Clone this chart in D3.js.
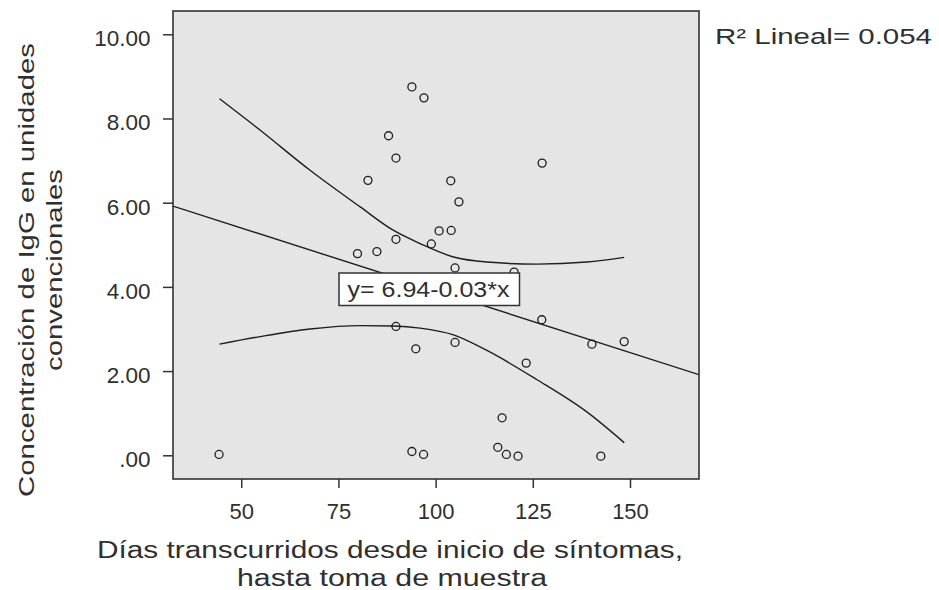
<!DOCTYPE html>
<html>
<head>
<meta charset="utf-8">
<script src="https://cdn.jsdelivr.net/npm/d3@7"></script>
<style>
  body { margin: 0; background: #fff; }
  text { font-family: "Liberation Sans", Arial, sans-serif; fill: #2f2f2f; }
</style>
</head>
<body>
<div id="chart"></div>
<script>
// dias desde inicio de sintomas / concentracion IgG
let dias = [93.9, 97.0, 87.9, 89.8, 82.6, 127.4, 103.9, 106.0, 100.9, 104.0, 89.8,
            98.9, 79.9, 84.9, 105.0, 120.2, 127.3, 140.2, 148.5, 105.0, 123.3, 89.8,
            94.9, 117.1, 116.0, 118.2, 121.2, 142.5, 44.3, 93.9, 96.9];
let igg = [8.75, 8.49, 7.59, 7.06, 6.53, 6.94, 6.52, 6.02, 5.33, 5.34, 5.13,
           5.02, 4.79, 4.84, 4.45, 4.35, 3.22, 2.64, 2.70, 2.68, 2.19, 3.06,
           2.53, 0.89, 0.19, 0.02, -0.02, -0.02, 0.02, 0.09, 0.02];

// linea de ajuste
let fitIntercept = 6.88;
let fitSlope = -0.0296;

// banda de confianza de la media
let bandX = [44.4, 54.9, 67.7, 80.6, 89.2, 96, 104.6, 113.2, 126, 138.9, 148.5];
let bandUpper = [8.47, 7.72, 6.77, 5.90, 5.34, 5.03, 4.71, 4.59, 4.54, 4.59, 4.70];
let bandLower = [2.64, 2.82, 3.00, 3.08, 3.07, 3.02, 2.86, 2.49, 1.80, 1.03, 0.30];

let xTicks = [50, 75, 100, 125, 150];
let yTicks = [0, 2, 4, 6, 8, 10];
let eqText = "y= 6.94-0.03*x";
let r2Text = "R\u00B2 Lineal= 0.054";

let width = 939, height = 590;
let plot = { left: 173, top: 11, right: 699, bottom: 479 }; //px

let svg = d3.select("#chart")
    .append("svg")
    .attr("width", width)
    .attr("height", height);

let x = d3.scaleLinear()
    .domain([32.45, 167.75])
    .range([plot.left, plot.right]);

let y = d3.scaleLinear()
    .domain([-0.563, 10.553])
    .range([plot.bottom, plot.top]);

svg.append("defs").append("clipPath")
    .attr("id", "clip")
    .append("rect")
    .attr("x", plot.left)
    .attr("y", plot.top)
    .attr("width", plot.right - plot.left)
    .attr("height", plot.bottom - plot.top);

svg.append("rect")
    .attr("x", plot.left)
    .attr("y", plot.top)
    .attr("width", plot.right - plot.left)
    .attr("height", plot.bottom - plot.top)
    .attr("fill", "#e4e5e4");

/*---------------
 // axes
 ----------------*/
let xAxis = d3.axisBottom(x)
    .tickValues(xTicks)
    .tickSize(9)
    .tickFormat(d3.format("d"));

let gx = svg.append("g")
    .attr("transform", "translate(0," + plot.bottom + ")")
    .call(xAxis);
gx.select(".domain").remove();
gx.selectAll(".tick line").attr("stroke", "#333").attr("stroke-width", 1.5);
gx.selectAll(".tick text")
    .attr("y", 40)
    .attr("dy", 0)
    .style("font-size", "22px")
    .style("font-family", "'Liberation Sans', Arial, sans-serif")
    .attr("fill", "#2f2f2f");

let yAxis = d3.axisLeft(y)
    .tickValues(yTicks)
    .tickSize(10)
    .tickFormat(d => d === 0 ? ".00" : d3.format(".2f")(d));

let gy = svg.append("g")
    .attr("transform", "translate(" + plot.left + ",0)")
    .call(yAxis);
gy.select(".domain").remove();
gy.selectAll(".tick line").attr("stroke", "#333").attr("stroke-width", 1.5);
gy.selectAll(".tick text")
    .attr("x", -22.5)
    .attr("dy", 11.5)
    .style("font-size", "22.5px")
    .style("font-family", "'Liberation Sans', Arial, sans-serif")
    .attr("fill", "#2f2f2f");

/*---------------
 // lines
 ----------------*/
let lines = svg.append("g").attr("clip-path", "url(#clip)");

lines.append("line")
    .attr("x1", x(x.domain()[0]))
    .attr("y1", y(fitIntercept + fitSlope * x.domain()[0]))
    .attr("x2", x(x.domain()[1]))
    .attr("y2", y(fitIntercept + fitSlope * x.domain()[1]))
    .attr("stroke", "#1e1e1e")
    .attr("stroke-width", 1.4);

let bandLine = d3.line()
    .x(d => x(d[0]))
    .y(d => y(d[1]))
    .curve(d3.curveMonotoneX);

[bandUpper, bandLower].forEach(vals => {
    lines.append("path")
        .attr("d", bandLine(bandX.map((bx, i) => [bx, vals[i]])))
        .attr("fill", "none")
        .attr("stroke", "#1e1e1e")
        .attr("stroke-width", 1.4);
});

/*---------------
 // points
 ----------------*/
svg.append("g")
    .selectAll("circle")
    .data(dias)
    .join("circle")
    .attr("cx", d => x(d))
    .attr("cy", (d, i) => y(igg[i]))
    .attr("r", 4)
    .attr("fill", "none")
    .attr("stroke", "#1e1e1e")
    .attr("stroke-width", 1.3);

svg.append("rect")
    .attr("x", plot.left)
    .attr("y", plot.top)
    .attr("width", plot.right - plot.left)
    .attr("height", plot.bottom - plot.top)
    .attr("fill", "none")
    .attr("stroke", "#333")
    .attr("stroke-width", 1.6);

// helper: stretched text like the original wide typeface
function wideText(sel, str, len, size) {
    return sel.append("text")
        .attr("textLength", len)
        .attr("lengthAdjust", "spacingAndGlyphs")
        .style("font-size", size + "px")
        .text(str);
}

// equation label
let eqPos = { x: 75.15, y: 4.33 };
let eqBox = svg.append("g")
    .attr("transform", "translate(" + x(eqPos.x) + "," + y(eqPos.y) + ")");
eqBox.append("rect")
    .attr("width", 180.5)
    .attr("height", 32.5)
    .attr("fill", "#fff")
    .attr("stroke", "#333")
    .attr("stroke-width", 1.5);
wideText(eqBox, eqText, 162, 21.5)
    .attr("x", 8.5)
    .attr("y", 24);

/*---------------
 // titles
 ----------------*/
wideText(svg, r2Text, 217, 21.5)
    .attr("x", 715)
    .attr("y", 43.5);

wideText(svg, "Días transcurridos desde inicio de síntomas,", 586, 23)
    .attr("x", 390)
    .attr("y", 557.5)
    .attr("text-anchor", "middle");

wideText(svg, "hasta toma de muestra", 310, 23)
    .attr("x", 392)
    .attr("y", 586)
    .attr("text-anchor", "middle");

let yLabelCenter = 270;
[["Concentración de IgG en unidades", 33.5, 454], ["convencionales", 61.5, 202]].forEach(l => {
    wideText(svg, l[0], l[2], 22)
        .attr("transform", "translate(" + l[1] + "," + yLabelCenter + ") rotate(-90)")
        .attr("text-anchor", "middle");
});
</script>
</body>
</html>
